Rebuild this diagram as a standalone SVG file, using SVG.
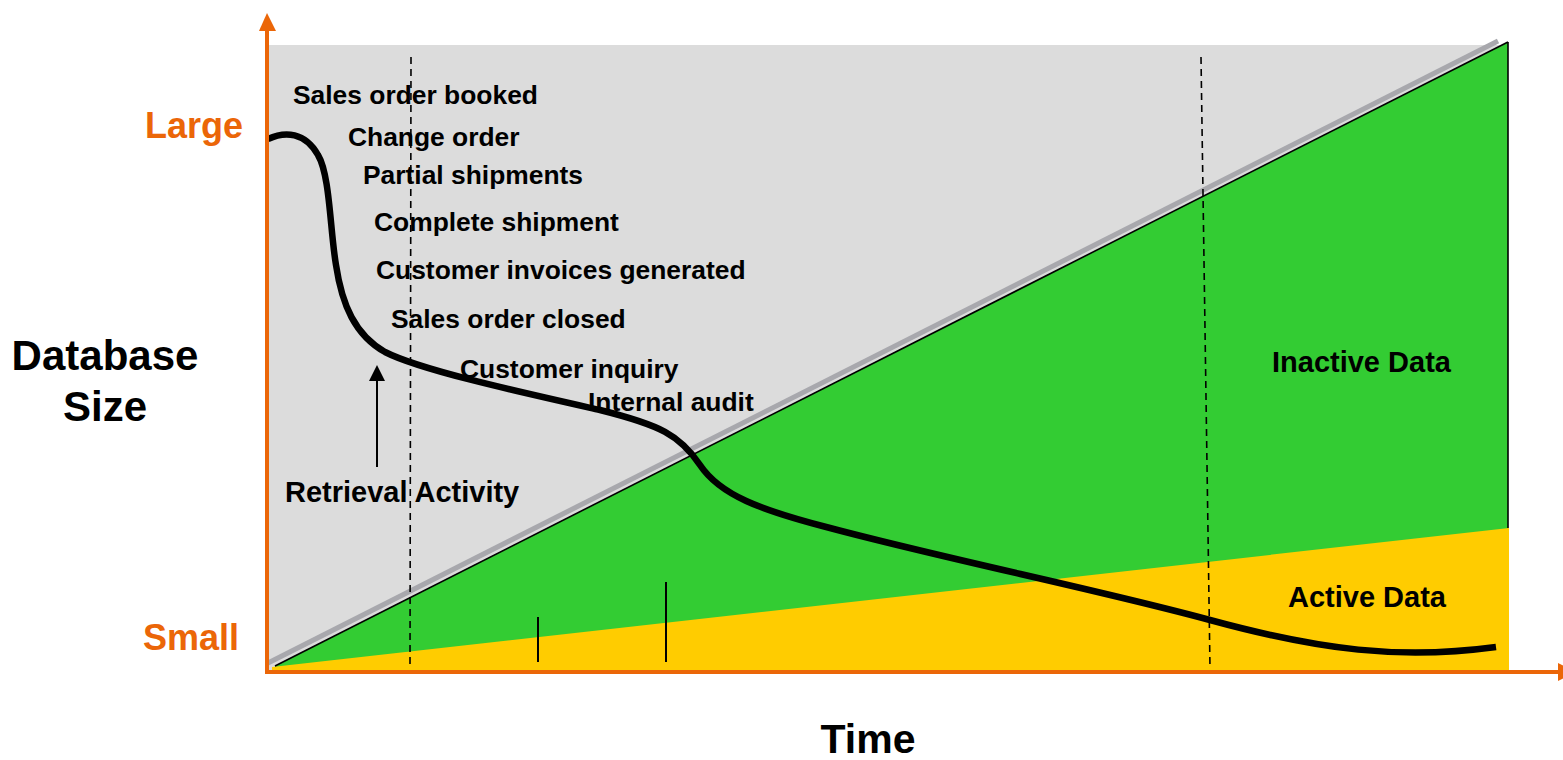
<svg xmlns="http://www.w3.org/2000/svg" width="1563" height="760" viewBox="0 0 1563 760">
<style>
.lbl{font-family:"Liberation Sans",Arial,sans-serif;font-weight:bold;fill:#000}
.ev{font-size:26.4px}
.axis{stroke:#EB6608;stroke-width:4;fill:none}
.ax-txt{font-family:"Liberation Sans",Arial,sans-serif;font-weight:bold;fill:#EB6608;font-size:36px}
.dash{stroke:#000;stroke-width:1.6;stroke-dasharray:7 5;fill:none}
</style>
<defs>
<marker id="ah" markerWidth="16" markerHeight="16" refX="2" refY="8" orient="auto" markerUnits="userSpaceOnUse" viewBox="0 0 16 16">
<path d="M0,0 L16,8 L0,16 z" fill="#000"/>
</marker>
</defs>
<rect width="1563" height="760" fill="#fff"/>
<g id="background">
<rect x="267" y="45" width="1238" height="627" fill="#DCDCDC"/>
</g>
<g id="inactive-area">
<polygon points="275,666 1508,42 1508,670 275,670" fill="#33CC33"/>
</g>
<g id="active-area">
<polygon points="272,667 1509,528 1509,671 272,671" fill="#FFCC00"/>
</g>
<g id="diagonal">
<line x1="268" y1="663" x2="1498" y2="41" stroke="#A8A8AD" stroke-width="5"/>
<line x1="275" y1="666" x2="1508" y2="42" stroke="#000" stroke-width="1.6"/>
<line x1="1508" y1="42" x2="1508" y2="528" stroke="#000" stroke-width="1.6"/>
</g>
<g id="connectors">
<line class="dash" x1="411" y1="57" x2="410" y2="666"/>
<line class="dash" x1="1201" y1="57" x2="1210" y2="668"/>
<line x1="538" y1="617" x2="538" y2="662" stroke="#000" stroke-width="2"/>
<line x1="666" y1="582" x2="666" y2="662" stroke="#000" stroke-width="2"/>
<line x1="377" y1="467" x2="377" y2="379" stroke="#000" stroke-width="2" marker-end="url(#ah)"/>
<path d="M268,139 C285,131 305,132 318,155 C330,175 330,230 336,265 C342,305 355,335 385,352 C420,370 520,392 600,410 C660,425 680,435 700,465 C720,495 760,510 830,528 C950,560 1100,590 1210,620 C1320,650 1400,660 1496,647" fill="none" stroke="#000" stroke-width="6.5"/>
</g>
<g id="axes">
<line class="axis" x1="267" y1="674" x2="267" y2="28"/>
<polygon points="267,13 259,31 276,31" fill="#EB6608"/>
<line class="axis" x1="265" y1="672" x2="1560" y2="672"/>
<polygon points="1576,672 1558,663 1558,681" fill="#EB6608"/>
</g>
<g id="axis-labels">
<text class="ax-txt" x="145" y="138">Large</text>
<text class="ax-txt" x="143" y="650">Small</text>
<text class="lbl" x="105" y="370" font-size="42" text-anchor="middle">Database</text>
<text class="lbl" x="105" y="421" font-size="42" text-anchor="middle">Size</text>
<text class="lbl" x="868" y="753" font-size="41" text-anchor="middle">Time</text>
</g>
<g id="events">
<text class="lbl ev" x="293" y="104">Sales order booked</text>
<text class="lbl ev" x="348" y="146">Change order</text>
<text class="lbl ev" x="363" y="184">Partial shipments</text>
<text class="lbl ev" x="374" y="231">Complete shipment</text>
<text class="lbl ev" x="376" y="279">Customer invoices generated</text>
<text class="lbl ev" x="391" y="328">Sales order closed</text>
<text class="lbl ev" x="460" y="378">Customer inquiry</text>
<text class="lbl ev" x="588" y="411">Internal audit</text>
<text class="lbl" x="285" y="502" font-size="29">Retrieval Activity</text>
</g>
<g id="area-labels">
<text class="lbl" x="1272" y="372" font-size="29">Inactive Data</text>
<text class="lbl" x="1288" y="607" font-size="29">Active Data</text>
</g>
</svg>
